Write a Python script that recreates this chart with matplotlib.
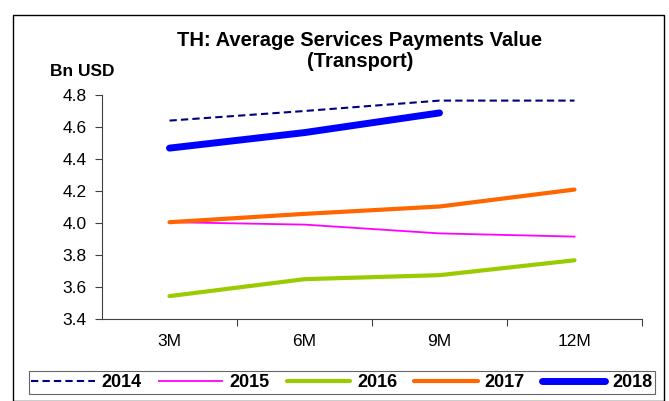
import numpy as np
import matplotlib.pyplot as plt
from matplotlib.patches import Rectangle

plt.rcParams['font.family'] = ['Liberation Sans', 'DejaVu Sans']

# 平均服务支付额（运输），单位：十亿美元
periods = ['3M', '6M', '9M', '12M']
v2014 = [4.64, 4.70, 4.765, 4.765]
v2015 = [4.005, 3.99, 3.935, 3.915]
v2016 = [3.543, 3.649, 3.674, 3.767]
v2017 = [4.005, 4.057, 4.103, 4.209]
v2018 = [4.468, 4.565, 4.688]

fig = plt.figure(figsize=(6.69, 4.01), dpi=100)
ax = fig.add_axes([102 / 669, 1 - 319 / 401, 540 / 669, 224 / 401])

# 外框
fig.patches.append(Rectangle((13 / 669, 0), 651 / 669, 1 - 15 / 401,
                             transform=fig.transFigure, fill=False,
                             edgecolor='black', linewidth=1.0))

x = np.arange(len(periods))
ax.plot(x, v2014, color='#000080', linewidth=1.5, linestyle=(0, (3.5, 2)), label='2014')
ax.plot(x, v2015, color='#FF00FF', linewidth=1.3, label='2015')
ax.plot(x, v2016, color='#99CC00', linewidth=3.0, solid_capstyle='round', label='2016')
ax.plot(x, v2017, color='#FF6600', linewidth=3.0, solid_capstyle='round', label='2017')
ax.plot(x[:len(v2018)], v2018, color='#0000FF', linewidth=5.0,
        solid_capstyle='round', label='2018')

ax.set_xlim(-0.5, 3.5)
ax.set_ylim(3.4, 4.8)
ax.set_yticks(np.arange(3.4, 4.81, 0.2))
ax.set_yticklabels([f'{v:.1f}' for v in np.arange(3.4, 4.81, 0.2)], fontsize=12.5)
ax.set_xticks([0.5, 1.5, 2.5, 3.5])
ax.set_xticklabels([])
ax.set_xticks(x, minor=True)
ax.set_xticklabels(periods, minor=True, fontsize=12.5)
ax.tick_params(axis='x', which='major', direction='out', length=5, width=0.8, color='#404040')
ax.tick_params(axis='x', which='minor', length=0, pad=11)
ax.tick_params(axis='y', direction='out', length=5, width=0.8, color='#404040', pad=6)
ax.spines['top'].set_visible(False)
ax.spines['right'].set_visible(False)
ax.spines['left'].set_color('#404040')
ax.spines['bottom'].set_color('#404040')

fig.text(360 / 669, 1 - 51 / 401, 'TH: Average Services Payments Value\n(Transport)',
         ha='center', va='center', fontsize=14.5, fontweight='bold', linespacing=1.15)
fig.text(82 / 669, 1 - 72 / 401, 'Bn USD', ha='center', va='center',
         fontsize=12.5, fontweight='bold')

leg = fig.legend(loc='center', bbox_to_anchor=(342 / 669, 1 - 382.5 / 401), ncol=5,
                 frameon=True, fancybox=False, edgecolor='#404040',
                 prop={'weight': 'bold', 'size': 13}, handlelength=3.5,
                 handletextpad=0.4, columnspacing=0.95, borderpad=0.15,
                 borderaxespad=0)
leg.get_frame().set_linewidth(0.8)

plt.savefig('out.png', dpi=100)
